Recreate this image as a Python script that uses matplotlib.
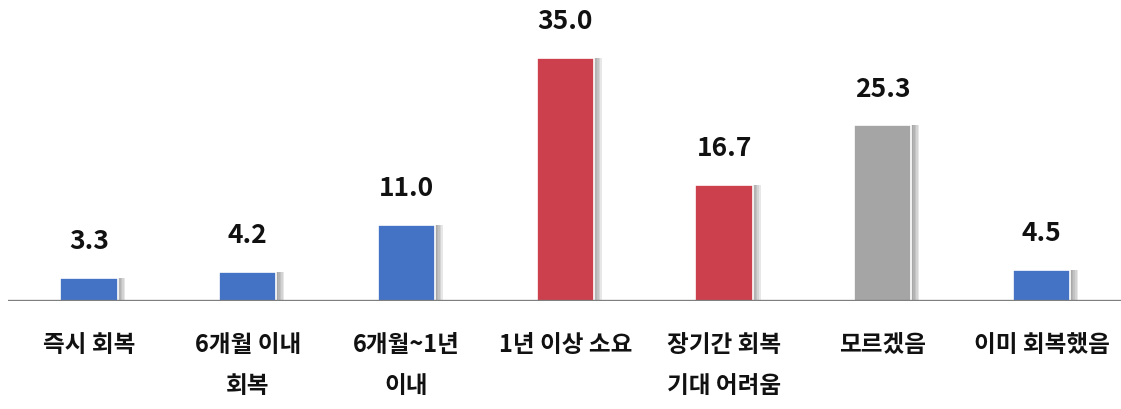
import matplotlib
matplotlib.use("Agg")
import matplotlib.pyplot as plt

plt.rcParams['font.family'] = ['Noto Sans CJK KR', 'DejaVu Sans']

categories = ["즉시 회복", "6개월 이내\n회복", "6개월~1년\n이내", "1년 이상 소요",
              "장기간 회복\n기대 어려움", "모르겠음", "이미 회복했음"]
values = [3.3, 4.2, 11.0, 35.0, 16.7, 25.3, 4.5]
colors = ["#4472C4", "#4472C4", "#4472C4", "#CC3F4D", "#CC3F4D", "#A5A5A5", "#4472C4"]

fig = plt.figure(figsize=(11.21, 4.09), dpi=100)
ax = fig.add_axes([8 / 1121, 108 / 409, 1 - 8 / 1121, 277.7 / 409])

x = list(range(len(values)))
width = 0.36

# soft shadow on the right side of each bar
for k in range(5):
    ax.bar([i + 0.01 * (k + 1) for i in x], values, width=width,
           color="#6f6f6f", alpha=0.16, linewidth=0, zorder=1)
ax.bar(x, values, width=width, color=colors, edgecolor="white",
       linewidth=1.2, zorder=2)

for i, v in zip(x, values):
    ax.text(i, v + 5.2, "%.1f" % v, ha="center", va="center",
            fontsize=19, fontweight="bold", color="#111111", clip_on=False)

ax.set_xlim(-0.51, 6.5)
ax.set_ylim(0, 40)
ax.axhline(0, color="#7f7f7f", linewidth=2.4, zorder=3)

for i, c in zip(x, categories):
    lines = c.split("\n")
    for j, t in enumerate(lines):
        ax.text(i, -6.3 - j * 5.9, t, ha="center", va="center",
                fontsize=17, fontweight="bold", color="#111111", clip_on=False)

ax.axis("off")
plt.savefig("out.png", dpi=100)
